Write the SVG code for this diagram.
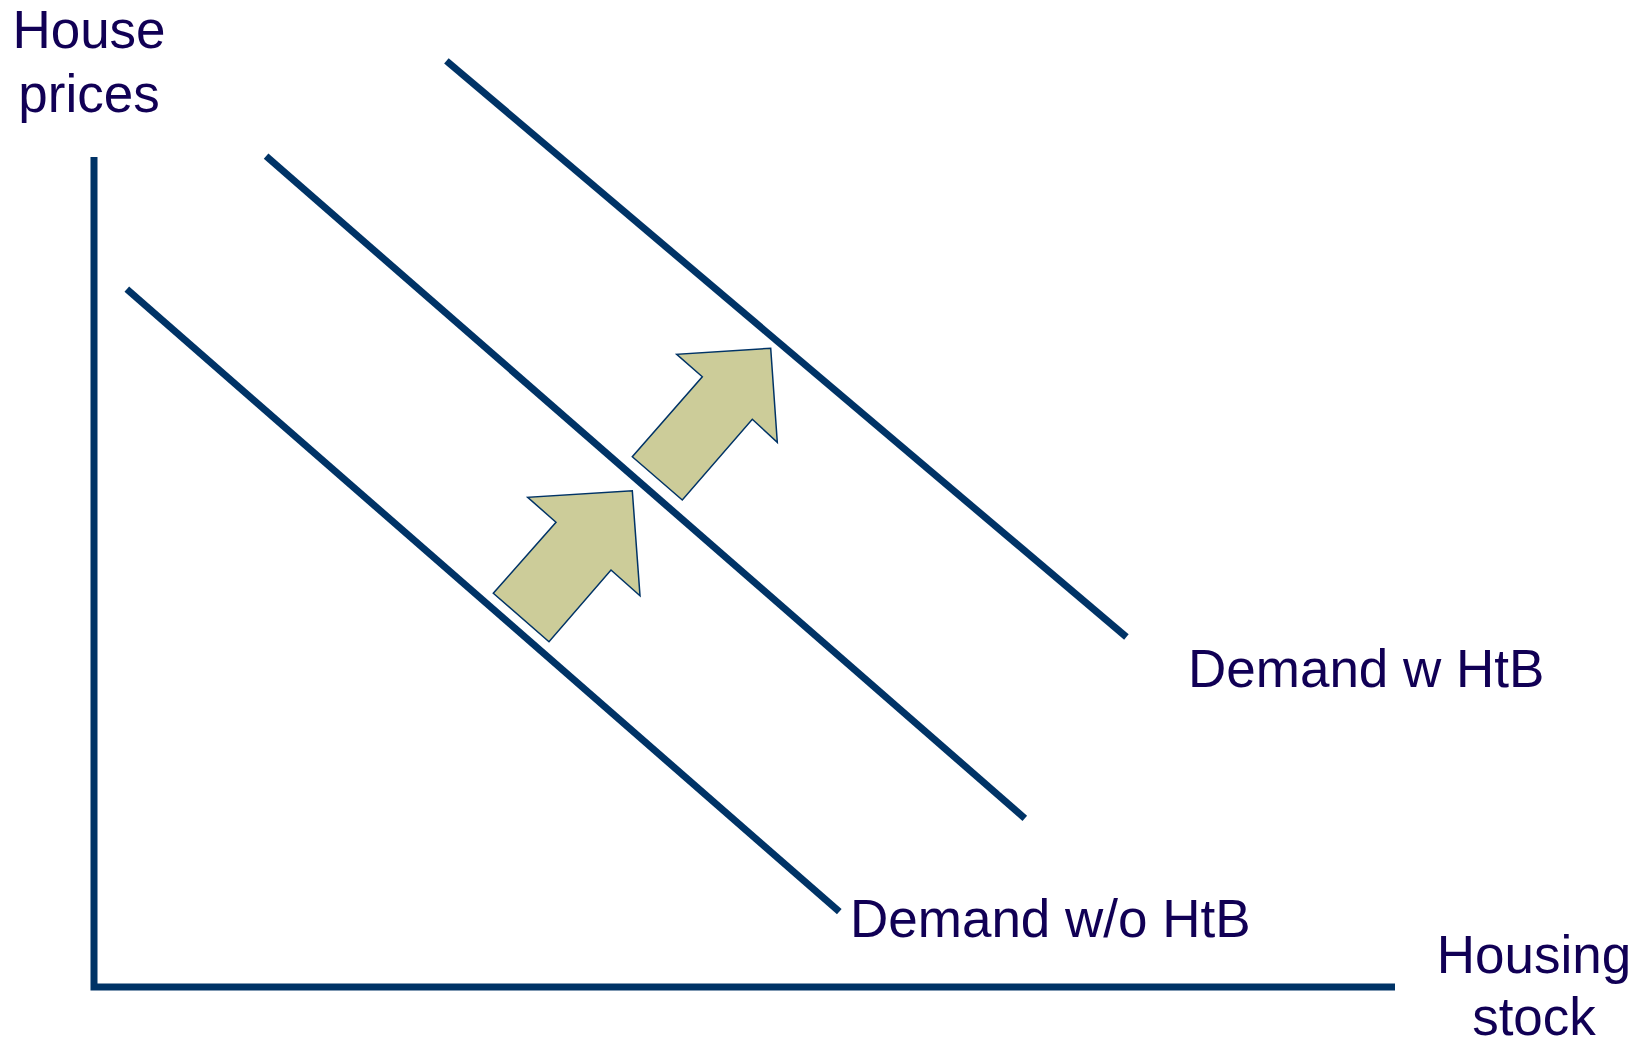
<svg xmlns="http://www.w3.org/2000/svg" width="1643" height="1040" viewBox="0 0 1643 1040">
<style>
.ax{stroke:#003366;stroke-width:7;fill:none;stroke-linecap:butt}
.dm{stroke:#003366;stroke-width:7;fill:none}
.arr{fill:#CCCC99;stroke:#003366;stroke-width:1.5;stroke-linejoin:miter}
text{font-family:"Liberation Sans",Arial,sans-serif;font-size:53px;fill:#110055}
</style>
<rect width="1643" height="1040" fill="#ffffff"/>
<g id="connectors">
<polyline id="axes" class="ax" points="94,157 94,987 1395,987"/>
<line id="demand-low" class="dm" x1="126.8" y1="289.2" x2="839.3" y2="911.6"/>
<line id="demand-mid" class="dm" x1="266.1" y1="156.1" x2="1024.8" y2="818.3"/>
<line id="demand-high" class="dm" x1="446.4" y1="60.8" x2="1126.4" y2="637"/>
</g>
<g id="shift-arrow-1">
<polygon class="arr" points="493.3,593.3 549,641.7 611,570 640,595.7 632.3,490.7 527.7,497.3 556,522.3"/>
</g>
<g id="shift-arrow-2">
<polygon class="arr" points="632.3,456.7 682.3,500 752.3,419.3 777.3,442.3 770.7,348.3 676.7,354.3 702.3,376.7"/>
</g>
<g id="label-y">
<text x="89" y="48" text-anchor="middle">House</text>
<text x="89" y="112" text-anchor="middle">prices</text>
</g>
<g id="label-x">
<text x="1534" y="972.5" text-anchor="middle">Housing</text>
<text x="1534" y="1035" text-anchor="middle">stock</text>
</g>
<g id="label-demand-htb">
<text x="1188" y="686.5">Demand w HtB</text>
</g>
<g id="label-demand-no-htb">
<text x="850" y="936.5">Demand w/o HtB</text>
</g>
</svg>
